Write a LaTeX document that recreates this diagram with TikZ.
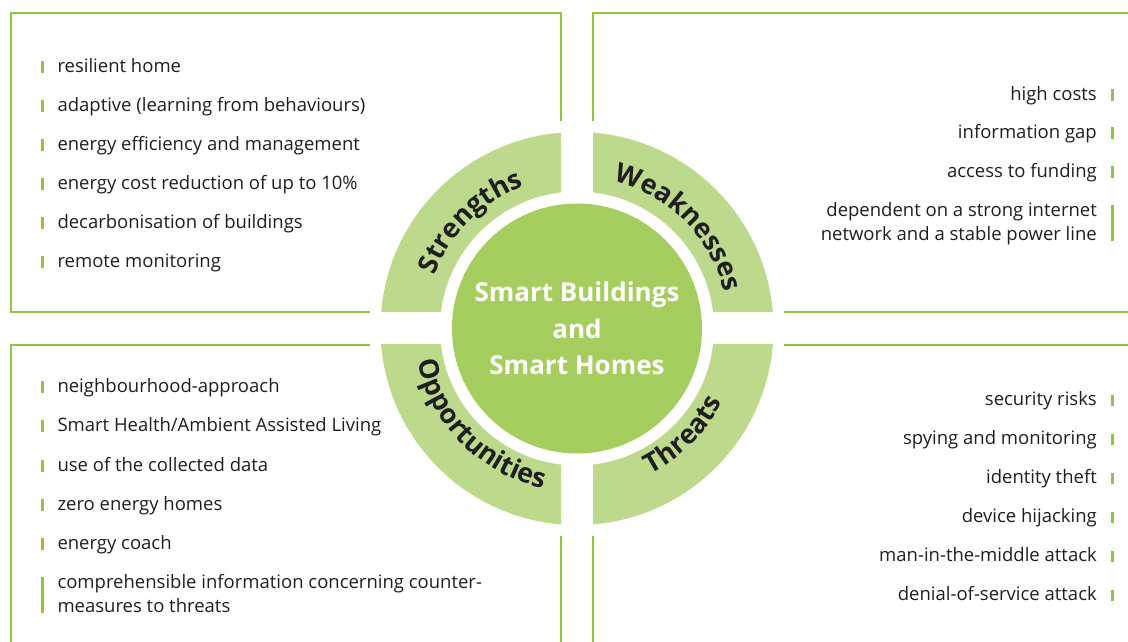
\documentclass[tikz,border=0pt]{standalone}
\usepackage{fontspec}
\setmainfont{Open Sans}
\usetikzlibrary{decorations.text,calc}
\definecolor{ringgreen}{HTML}{BDDA8C}
\definecolor{coregreen}{HTML}{A6CE5E}
\definecolor{linegreen}{HTML}{8DC63F}
\definecolor{txt}{HTML}{1E1E1E}
\newcommand\lblfont{\fontsize{27}{30}\selectfont\bfseries}
\begin{document}
\begin{tikzpicture}[x=1pt,y=1pt,
  frame/.style={draw=linegreen, line width=2pt},
  itemL/.style={anchor=base west, inner sep=0pt, text=txt, font=\fontsize{18.5}{24}\selectfont, align=left},
  itemR/.style={anchor=base east, inner sep=0pt, text=txt, font=\fontsize{18.5}{24}\selectfont, align=right},
  bar/.style={draw=linegreen, line width=2.8pt},
  arclabel/.style={decorate, decoration={text along path, text color=txt, text align=center, text={|\lblfont|#1}}}
]
\useasboundingbox (0,0) rectangle (1128,641);
\coordinate (C) at (577,312.5);
% ring quadrants
\foreach \sx/\sy in {1/1,-1/1,-1/-1,1/-1}{
  \begin{scope}
    \clip ($(C)+(\sx*16,\sy*16.5)$) rectangle ($(C)+(\sx*210,\sy*210)$);
    \fill[ringgreen, even odd rule] (C) circle[radius=196.5] (C) circle[radius=137];
  \end{scope}
}
\node[circle, fill=coregreen, minimum size=250pt, inner sep=0pt] (core) at (C) {};
\node[font=\fontsize{26}{36.5}\selectfont\bfseries, text=white, align=center] (title) at (C) {Smart Buildings\\and\\Smart Homes};
% curved labels
\path[arclabel=Strengths] ($(C)+(-152,0)$) arc[start angle=180, end angle=90, radius=152];
\path[arclabel=Weaknesses] ($(C)+(0,152)$) arc[start angle=90, end angle=0, radius=152];
\path[arclabel=Opportunities] ($(C)+(-163,0)$) arc[start angle=180, end angle=270, radius=163];
\path[arclabel=Threats] ($(C)+(0,-163)$) arc[start angle=270, end angle=360, radius=163];
% frames
\draw[frame] (370,328.7) -- (10.5,328.7) -- (10.5,628.3) -- (560.7,628.3) -- (560.7,520.3);
\draw[frame] (592.7,520.3) -- (592.7,628.3) -- (1130,628.3);
\draw[frame] (784,328.7) -- (1130,328.7);
\draw[frame] (370,295.7) -- (10.5,295.7) -- (10.5,-2);
\draw[frame] (560.7,105) -- (560.7,-2);
\draw[frame] (784,295.7) -- (1130,295.7);
\draw[frame] (592.7,105) -- (592.7,-2);
% strengths
\foreach \n/\y/\t in {s1/568.5/resilient home, s2/529.5/adaptive (learning from behaviours), s3/490.5/energy efficiency and management, s4/451.5/energy cost reduction of up to 10\%, s5/412.5/decarbonisation of buildings, s6/373.5/remote monitoring}{
  \node[itemL] (\n) at (57.3,\y) {\t};
  \draw[bar] ($(\n.base west)+(-14.6,-0.5)$) -- ++(0,11.5);
}
% weaknesses
\foreach \n/\y/\t in {w1/540.5/high costs, w2/502.5/information gap, w3/463.5/access to funding}{
  \node[itemR] (\n) at (1097,\y) {\t};
  \draw[bar] ($(\n.base east)+(15.5,-0.5)$) -- ++(0,11.5);
}
\node[itemR] (w4) at (1097,400.5) {dependent on a strong internet\\network and a stable power line};
\draw[bar] ($(w4.base east)+(15.5,-0.5)$) -- ++(0,36);
% opportunities
\foreach \n/\y/\t in {o1/249/neighbourhood-approach, o2/210/{Smart Health/Ambient Assisted Living}, o3/170/use of the collected data, o4/131/zero energy homes, o5/92/energy coach}{
  \node[itemL] (\n) at (57.3,\y) {\t};
  \draw[bar] ($(\n.base west)+(-14.6,-0.5)$) -- ++(0,11.5);
}
\node[itemL] (o6) at (57.3,29) {comprehensible information concerning counter-\\measures to threats};
\draw[bar] ($(o6.base west)+(-14.6,-0.5)$) -- ++(0,36);
% threats
\foreach \n/\y/\t in {t1/235.5/security risks, t2/196.5/spying and monitoring, t3/157.5/identity theft, t4/118.5/device hijacking, t5/79.5/man-in-the-middle attack, t6/40.5/denial-of-service attack}{
  \node[itemR] (\n) at (1097,\y) {\t};
  \draw[bar] ($(\n.base east)+(15.5,-0.5)$) -- ++(0,11.5);
}
\end{tikzpicture}
\end{document}
